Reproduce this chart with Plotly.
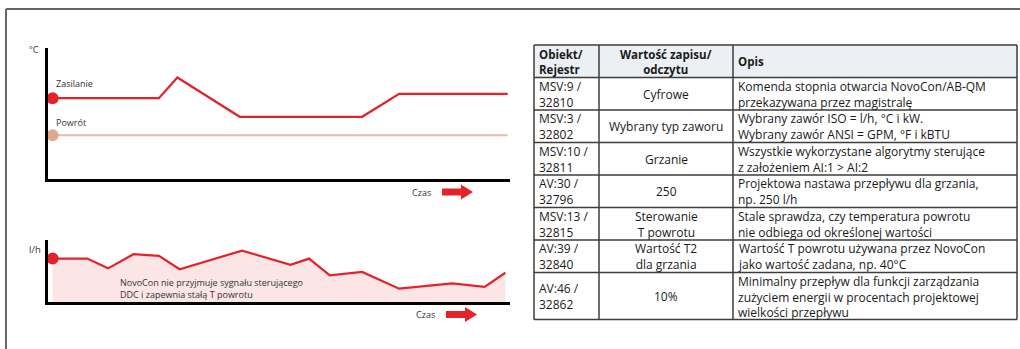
import plotly.graph_objects as go

W, H = 1020, 349

# Supply / return temperature over time (°C)
temp_time = [0, 23, 27, 40.5, 67, 75, 98.5]
supply_temp = [74, 74, 93, 57, 57, 78, 78]
return_time = [0, 98.5]
return_temp = [40, 40]

# Flow through the valve over time (l/h)
flow_time = [0, 7.5, 12, 17.5, 23, 27.5, 41, 51.5, 55.5, 60, 67, 75, 86.5, 93.5, 98]
flow = [245, 245, 190, 270, 260, 185, 290, 210, 245, 150, 170, 75, 105, 85, 165]

# Register table
table_header = ["Obiekt/\nRejestr", "Wartość zapisu/\nodczytu", "Opis"]
col_object = [
    "MSV:9 /\n32810",
    "MSV:3 /\n32802",
    "MSV:10 /\n32811",
    "AV:30 /\n32796",
    "MSV:13 /\n32815",
    "AV:39 /\n32840",
    "AV:46 /\n32862",
]
col_value = [
    "Cyfrowe",
    "Wybrany typ zaworu",
    "Grzanie",
    "250",
    "Sterowanie\nT powrotu",
    "Wartość T2\ndla grzania",
    "10%",
]
col_desc = [
    "Komenda stopnia otwarcia NovoCon/AB-QM\nprzekazywana przez magistralę",
    "Wybrany zawór ISO = l/h, °C i kW.\nWybrany zawór ANSI = GPM, °F i kBTU",
    "Wszystkie wykorzystane algorytmy sterujące\nz założeniem AI:1 > AI:2",
    "Projektowa nastawa przepływu dla grzania,\nnp. 250 l/h",
    "Stale sprawdza, czy temperatura powrotu\nnie odbiega od określonej wartości",
    "Wartość T powrotu używana przez NovoCon\njako wartość zadana, np. 40°C",
    "Minimalny przepływ dla funkcji zarządzania\nzużyciem energii w procentach projektowej\nwielkości przepływu",
]

RED = "#E3222A"
TEXT = "#333333"
FONT = "Open Sans"


def fx(px):
    return px / W


def fy(py):
    return 1 - py / H


fig = go.Figure()

# --- temperature chart ---
fig.add_trace(go.Scatter(x=temp_time, y=supply_temp, mode="lines",
                         line=dict(color=RED, width=2.2), xaxis="x", yaxis="y"))
fig.add_trace(go.Scatter(x=temp_time[:1], y=supply_temp[:1], mode="markers",
                         marker=dict(color=RED, size=12), cliponaxis=False,
                         xaxis="x", yaxis="y"))
fig.add_trace(go.Scatter(x=return_time, y=return_temp, mode="lines",
                         line=dict(color="#EBB9A7", width=2), xaxis="x", yaxis="y"))
fig.add_trace(go.Scatter(x=return_time[:1], y=return_temp[:1], mode="markers",
                         marker=dict(color="#E1A78F", size=12), cliponaxis=False,
                         xaxis="x", yaxis="y"))

# --- flow chart ---
fig.add_trace(go.Scatter(x=flow_time, y=flow, mode="lines", fill="tozeroy",
                         fillcolor="#FCE5E5", line=dict(color=RED, width=2.2),
                         xaxis="x2", yaxis="y2"))
fig.add_trace(go.Scatter(x=flow_time[:1], y=flow[:1], mode="markers",
                         marker=dict(color=RED, size=12), cliponaxis=False,
                         xaxis="x2", yaxis="y2"))

axis_style = dict(showline=True, linewidth=3, linecolor="black", showgrid=False,
                  zeroline=False, showticklabels=False, ticks="", fixedrange=True)

fig.update_layout(
    width=W, height=H, margin=dict(l=0, r=0, t=0, b=0),
    paper_bgcolor="white", plot_bgcolor="white", showlegend=False,
    font=dict(family=FONT, color=TEXT),
    xaxis=dict(domain=[fx(48), fx(510)], range=[-1, 99], anchor="y", **axis_style),
    yaxis=dict(domain=[fy(179), fy(48)], range=[0, 120], anchor="x", **axis_style),
    xaxis2=dict(domain=[fx(48), fx(510)], range=[-1, 99], anchor="y2", **axis_style),
    yaxis2=dict(domain=[fy(302), fy(240)], range=[0, 350], anchor="x2", **axis_style),
)

ann = []
shapes = []


def label(text, x, y, size=9, xanchor="left", color=TEXT, bold=False, align="left"):
    if bold:
        text = "<br>".join("<b>" + t + "</b>" for t in text.split("<br>"))
    ann.append(dict(text=text, x=fx(x), y=fy(y), xref="paper", yref="paper",
                    xanchor=xanchor, yanchor="middle", showarrow=False, align=align,
                    font=dict(family=FONT, size=size, color=color)))


def arrow(x0, x1, yc, shaft=7, head_len=12, head_h=15):
    xs = x1 - head_len
    pts = [(x0, yc - shaft / 2), (xs, yc - shaft / 2), (xs, yc - head_h / 2), (x1, yc),
           (xs, yc + head_h / 2), (xs, yc + shaft / 2), (x0, yc + shaft / 2)]
    path = "M " + " L ".join(f"{fx(a):.5f},{fy(b):.5f}" for a, b in pts) + " Z"
    shapes.append(dict(type="path", path=path, xref="paper", yref="paper",
                       fillcolor=RED, line=dict(width=0)))


def hline(x0, x1, y, color, width):
    shapes.append(dict(type="line", x0=fx(x0), x1=fx(x1), y0=fy(y), y1=fy(y),
                       xref="paper", yref="paper", line=dict(color=color, width=width)))


def vline(x, y0, y1, color, width):
    shapes.append(dict(type="line", x0=fx(x), x1=fx(x), y0=fy(y0), y1=fy(y1),
                       xref="paper", yref="paper", line=dict(color=color, width=width)))


# outer frame
hline(6, 1020, 9, "#666666", 2)
vline(6, 9, 349, "#666666", 2)

# chart captions
label("°C", 27, 50, size=9)
label("Zasilanie", 54, 84)
label("Powrót", 54, 123)
label("Czas", 433, 192, xanchor="right")
arrow(442, 473, 192)

label("l/h", 27, 249, size=9.5)
label("NovoCon nie przyjmuje sygnału sterującego<br>DDC i zapewnia stałą T powrotu",
      118, 288.5, size=9)
label("Czas", 437, 314.5, xanchor="right")
arrow(446, 477, 314.5)

# --- table ---
col_x = [534, 599, 733, 1017]
top = 45
BORDER = "#3d3d3d"
CELL_COLOR = "#1a1a1a"

rows = [table_header] + [list(r) for r in zip(col_object, col_value, col_desc)]
heights = []
for r in rows:
    n = max(len(c.split("\n")) for c in r)
    heights.append(3.5 + 14.5 * n)

shapes.append(dict(type="rect", x0=fx(col_x[0]), x1=fx(col_x[-1]), y0=fy(top),
                   y1=fy(top + heights[0]), xref="paper", yref="paper",
                   fillcolor="#ECF0F4", line=dict(width=0), layer="below"))

y = top
bounds = [y]
for i, r in enumerate(rows):
    h = heights[i]
    yc = y + h / 2 + 0.5
    head = i == 0
    size = 11.5 if head else 12
    for j, cell in enumerate(r):
        text = cell.replace("\n", "<br>")
        if j == 1:
            label(text, (col_x[1] + col_x[2]) / 2, yc, size=size, xanchor="center",
                  align="center", bold=head, color=CELL_COLOR)
        else:
            label(text, col_x[j] + 3, yc, size=size, bold=head, color=CELL_COLOR)
    y += h
    bounds.append(y)

for b in bounds:
    hline(col_x[0], col_x[-1], b, BORDER, 1.5)
for cx in col_x:
    vline(cx, bounds[0], bounds[-1], BORDER, 1.5)

fig.update_layout(annotations=ann, shapes=shapes)
fig.write_html("out.html")
